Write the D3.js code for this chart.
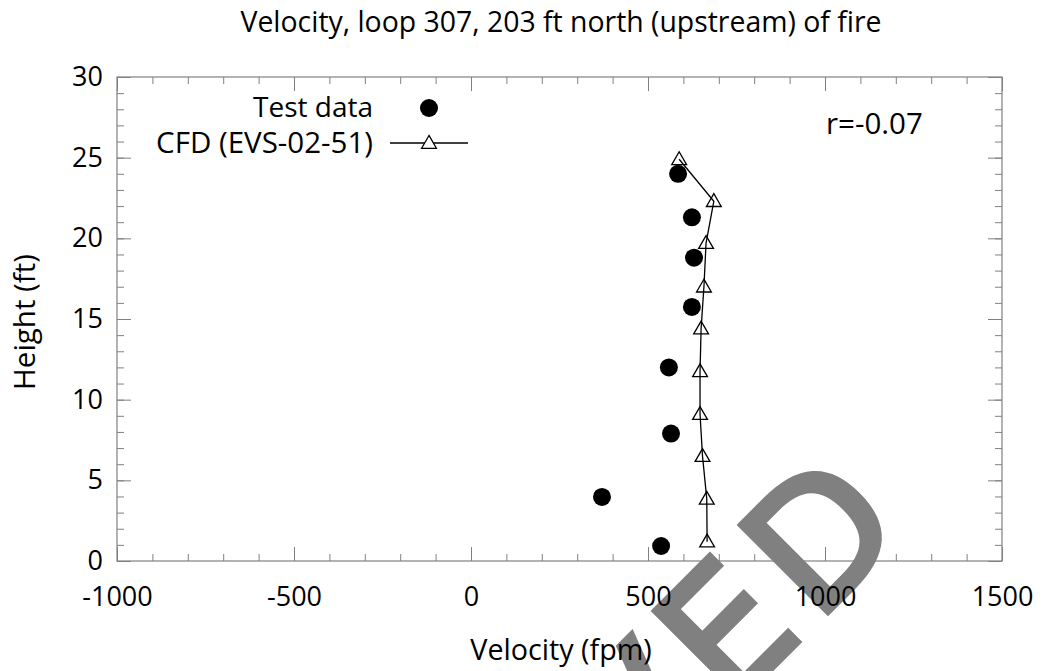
<!DOCTYPE html>
<html>
<head>
<meta charset="utf-8">
<script src="https://cdn.jsdelivr.net/npm/d3@7"></script>
<style>
  body { margin: 0; background: #fff; }
  text { font-family: "Open Sans", "DejaVu Sans", sans-serif; fill: #000; }
</style>
</head>
<body>
<svg id="chart" width="1044" height="671"></svg>
<script>
// test data (velocity fpm, height ft)
const testVel = [585, 624, 630, 624, 559, 565, 370, 537];
const testHt = [24.0, 21.3, 18.8, 15.75, 12.0, 7.9, 3.97, 0.93];
// CFD run EVS-02-51
const cfdVel = [588, 686, 664, 658, 650, 647, 647, 654, 666, 667];
const cfdHt = [24.9, 22.3, 19.7, 17.0, 14.4, 11.75, 9.1, 6.5, 3.85, 1.2];

const xTicks = [-1000, -500, 0, 500, 1000, 1500];
const xMinor = d3.range(-1000, 1501, 100);
const yTicks = [0, 5, 10, 15, 20, 25, 30];
const yMinor = d3.range(0, 31, 1);

const margin = {top: 77, right: 42, bottom: 110, left: 117};
const W = 1044, H = 671;

const svg = d3.select("#chart");

const x = d3.scaleLinear().domain([-1000, 1500]).range([margin.left, W - margin.right]);
const y = d3.scaleLinear().domain([0, 30]).range([H - margin.bottom, margin.top]);

// watermark, sits underneath everything
svg.append("text")
  .attr("transform", "translate(919,521) rotate(-45)")
  .attr("text-anchor", "end")
  .style("font-family", "DejaVu Sans")
  .style("font-size", "169px")
  .style("letter-spacing", "15px")
  .style("fill", "#808080")
  .style("stroke", "#808080")
  .style("stroke-width", "6px")
  .text("ARCHIVED");

const gray = "#808080";

// minor ticks, all four sides
function ticksOn(g) {
  g.select(".domain").remove();
  g.selectAll(".tick line").attr("stroke", gray);
  g.selectAll(".tick text").remove();
}
svg.append("g").attr("transform", `translate(0,${y(0)})`)
  .call(d3.axisBottom(x).tickValues(xMinor).tickSize(-7)).call(ticksOn);
svg.append("g").attr("transform", `translate(0,${y(30)})`)
  .call(d3.axisTop(x).tickValues(xMinor).tickSize(-7)).call(ticksOn);
svg.append("g").attr("transform", `translate(${x(-1000)},0)`)
  .call(d3.axisLeft(y).tickValues(yMinor).tickSize(-7)).call(ticksOn);
svg.append("g").attr("transform", `translate(${x(1500)},0)`)
  .call(d3.axisRight(y).tickValues(yMinor).tickSize(-7)).call(ticksOn);
// major ticks on top/right (no labels)
svg.append("g").attr("transform", `translate(0,${y(30)})`)
  .call(d3.axisTop(x).tickValues(xTicks).tickSize(-14)).call(ticksOn);
svg.append("g").attr("transform", `translate(${x(1500)},0)`)
  .call(d3.axisRight(y).tickValues(yTicks).tickSize(-14)).call(ticksOn);

// major ticks with labels
const xAxis = svg.append("g").attr("transform", `translate(0,${y(0)})`)
  .call(d3.axisBottom(x).tickValues(xTicks).tickFormat(d => String(d))
    .tickSizeInner(-14).tickSizeOuter(0).tickPadding(26));
const yAxis = svg.append("g").attr("transform", `translate(${x(-1000)},0)`)
  .call(d3.axisLeft(y).tickValues(yTicks).tickFormat(d => String(d))
    .tickSizeInner(-14).tickSizeOuter(0).tickPadding(14));
[xAxis, yAxis].forEach(g => {
  g.select(".domain").remove();
  g.selectAll(".tick line").attr("stroke", gray);
  g.selectAll(".tick text").style("font-size", "27px").style("font-family", "Open Sans").attr("fill", "#000");
});

// frame
svg.append("rect")
  .attr("x", x(-1000)).attr("y", y(30))
  .attr("width", x(1500) - x(-1000)).attr("height", y(0) - y(30))
  .attr("fill", "none").attr("stroke", gray).attr("stroke-width", 1.2);

// CFD line + open triangles
const cfd = cfdVel.map((v, i) => ({v: v, h: cfdHt[i]}));
svg.append("path").datum(cfd)
  .attr("fill", "none").attr("stroke", "#000").attr("stroke-width", 1.3)
  .attr("d", d3.line().x(d => x(d.v)).y(d => y(d.h)));

const tri = d3.symbol().type(d3.symbolTriangle).size(95);
svg.selectAll(".tri").data(cfd).enter().append("path")
  .attr("class", "tri")
  .attr("transform", d => `translate(${x(d.v)},${y(d.h) + 1})`)
  .attr("d", tri)
  .attr("fill", "none").attr("stroke", "#000").attr("stroke-width", 1.3);

// test data dots
const test = testVel.map((v, i) => ({v: v, h: testHt[i]}));
svg.selectAll(".dot").data(test).enter().append("circle")
  .attr("class", "dot")
  .attr("cx", d => x(d.v)).attr("cy", d => y(d.h))
  .attr("r", 9).attr("fill", "#000");

// legend
svg.append("text").attr("x", 373).attr("y", 107).attr("dy", "0.35em")
  .attr("text-anchor", "end").style("font-size", "28px").text("Test data");
svg.append("circle").attr("cx", 429).attr("cy", 108).attr("r", 9).attr("fill", "#000");
svg.append("text").attr("x", 373).attr("y", 143).attr("dy", "0.35em")
  .attr("text-anchor", "end").style("font-size", "29.5px").text("CFD (EVS-02-51)");
svg.append("line").attr("x1", 390).attr("x2", 468).attr("y1", 143).attr("y2", 143)
  .attr("stroke", "#000").attr("stroke-width", 1.3);
svg.append("path").attr("transform", "translate(429,144)").attr("d", tri)
  .attr("fill", "#fff").attr("stroke", "#000").attr("stroke-width", 1.3);

// correlation note
svg.append("text").attr("x", 826).attr("y", 124).attr("dy", "0.35em")
  .style("font-size", "29.5px").text("r=-0.07");

// titles
svg.append("text").attr("x", 561).attr("y", 22).attr("dy", "0.35em")
  .attr("text-anchor", "middle").style("font-size", "28.4px")
  .text("Velocity, loop 307, 203 ft north (upstream) of fire");
svg.append("text").attr("x", 561).attr("y", 650).attr("dy", "0.35em")
  .attr("text-anchor", "middle").style("font-size", "28.7px")
  .text("Velocity (fpm)");
svg.append("text").attr("transform", "translate(25,322) rotate(-90)").attr("dy", "0.35em")
  .attr("text-anchor", "middle").style("font-size", "29.5px")
  .text("Height (ft)");
</script>
</body>
</html>
